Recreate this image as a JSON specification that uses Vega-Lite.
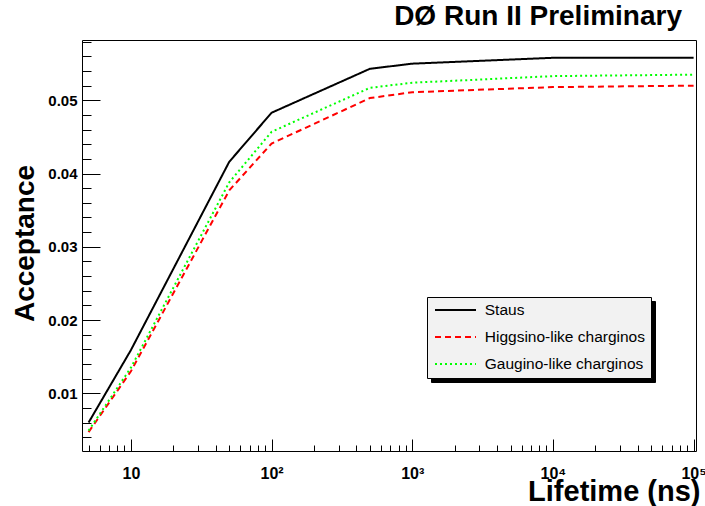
{
  "$schema": "https://vega.github.io/schema/vega-lite/v6.json",
  "width": 614,
  "height": 411,
  "autosize": {"type": "none"},
  "padding": {"left": 82, "top": 40, "right": 9, "bottom": 55},
  "background": "white",
  "config": {
    "view": {"stroke": "black", "strokeWidth": 1},
    "font": "Liberation Sans"
  },
  "title": {
    "text": "DØ Run II Preliminary",
    "anchor": "end",
    "frame": "group",
    "font": "Liberation Sans",
    "fontSize": 28,
    "fontWeight": "bold",
    "color": "black",
    "baseline": "alphabetic",
    "offset": 12,
    "dx": -14,
    "dy": 30
  },
  "data": {
    "values": [
      {"series": "Staus", "t": 5, "acc": 0.0060},
      {"series": "Staus", "t": 10, "acc": 0.0159},
      {"series": "Staus", "t": 50, "acc": 0.0416},
      {"series": "Staus", "t": 100, "acc": 0.0483},
      {"series": "Staus", "t": 500, "acc": 0.0543},
      {"series": "Staus", "t": 1000, "acc": 0.0550},
      {"series": "Staus", "t": 10000, "acc": 0.0558},
      {"series": "Staus", "t": 100000, "acc": 0.0558},
      {"series": "Higgsino-like charginos", "t": 5, "acc": 0.0047},
      {"series": "Higgsino-like charginos", "t": 10, "acc": 0.0130},
      {"series": "Higgsino-like charginos", "t": 50, "acc": 0.0377},
      {"series": "Higgsino-like charginos", "t": 100, "acc": 0.0441},
      {"series": "Higgsino-like charginos", "t": 500, "acc": 0.0503},
      {"series": "Higgsino-like charginos", "t": 1000, "acc": 0.0511},
      {"series": "Higgsino-like charginos", "t": 10000, "acc": 0.0518},
      {"series": "Higgsino-like charginos", "t": 100000, "acc": 0.0520},
      {"series": "Gaugino-like charginos", "t": 5, "acc": 0.0049},
      {"series": "Gaugino-like charginos", "t": 10, "acc": 0.0135},
      {"series": "Gaugino-like charginos", "t": 50, "acc": 0.0388},
      {"series": "Gaugino-like charginos", "t": 100, "acc": 0.0457},
      {"series": "Gaugino-like charginos", "t": 500, "acc": 0.0517},
      {"series": "Gaugino-like charginos", "t": 1000, "acc": 0.0524},
      {"series": "Gaugino-like charginos", "t": 10000, "acc": 0.0533},
      {"series": "Gaugino-like charginos", "t": 100000, "acc": 0.0535}
    ]
  },
  "layer": [
    {
      "mark": {"type": "line", "strokeWidth": 2, "clip": true},
      "encoding": {
        "x": {
          "field": "t",
          "type": "quantitative",
          "scale": {"type": "log", "domain": [4.49, 104000], "nice": false},
          "axis": {
            "title": "Lifetime (ns)",
            "values": [5,6,7,8,9,10,20,30,40,50,60,70,80,90,100,200,300,400,500,600,700,800,900,1000,2000,3000,4000,5000,6000,7000,8000,9000,10000,20000,30000,40000,50000,60000,70000,80000,90000,100000],
            "tickCount": 200,
            "domain": false,
            "grid": false,
            "tickColor": "black",
            "tickWidth": 1,
            "tickSize": {"condition": {"test": "indexof([10,100,1000,10000,100000], datum.value) >= 0", "value": -12}, "value": -6},
            "labelExpr": "datum.value == 10 ? '10' : datum.value == 100 ? '10²' : datum.value == 1000 ? '10³' : datum.value == 10000 ? '10⁴' : datum.value == 100000 ? '10⁵' : ''",
            "labelFont": "Liberation Sans",
            "labelFontSize": 16,
            "labelFontWeight": "bold",
            "labelColor": "black",
            "labelPadding": 26,
            "labelOverlap": false,
            "labelFlush": false,
            "labelBound": false,
            "titleFont": "Liberation Sans",
            "titleFontSize": 29,
            "titleFontWeight": "bold",
            "titleColor": "black",
            "titleAlign": "right",
            "titleBaseline": "alphabetic",
            "titleX": 618,
            "titleY": 49
          }
        },
        "y": {
          "field": "acc",
          "type": "quantitative",
          "scale": {"domain": [0.00212, 0.05823], "nice": false, "zero": false},
          "axis": {
            "title": "Acceptance",
            "values": [0.004,0.006,0.008,0.01,0.012,0.014,0.016,0.018,0.02,0.022,0.024,0.026,0.028,0.03,0.032,0.034,0.036,0.038,0.04,0.042,0.044,0.046,0.048,0.05,0.052,0.054,0.056,0.058],
            "tickCount": 200,
            "domain": false,
            "grid": false,
            "tickColor": "black",
            "tickWidth": 1,
            "tickSize": {"condition": {"test": "abs(datum.value*100 - round(datum.value*100)) < 0.000001", "value": -18}, "value": -9},
            "labelExpr": "abs(datum.value*100 - round(datum.value*100)) < 0.000001 ? format(datum.value, '.2f') : ''",
            "labelFont": "Liberation Sans",
            "labelFontSize": 15,
            "labelFontWeight": "bold",
            "labelColor": "black",
            "labelPadding": 23,
            "labelOverlap": false,
            "labelFlush": false,
            "labelBound": false,
            "titleFont": "Liberation Sans",
            "titleFontSize": 28,
            "titleFontWeight": "bold",
            "titleColor": "black",
            "titleAngle": 270,
            "titleAlign": "center",
            "titleBaseline": "alphabetic",
            "titleX": -49,
            "titleY": 203
          }
        },
        "color": {
          "field": "series",
          "type": "nominal",
          "scale": {"domain": ["Staus", "Higgsino-like charginos", "Gaugino-like charginos"], "range": ["#000000", "#ff0000", "#00ff00"]},
          "legend": {
            "title": null,
            "orient": "none",
            "legendX": 345,
            "legendY": 257,
            "fillColor": "#f2f2f2",
            "strokeColor": "black",
            "padding": 5.25,
            "rowPadding": 10,
            "symbolType": "M-1,0H7.2",
            "symbolSize": 100,
            "symbolStrokeWidth": 2,
            "labelOffset": 37,
            "labelFont": "Liberation Sans",
            "labelFontSize": 15.5,
            "labelFontWeight": "normal",
            "labelColor": "black",
            "labelLimit": 400,
            "labelExpr": "datum.label + '\u00a0'",
            "zindex": 1
          }
        },
        "strokeDash": {
          "field": "series",
          "type": "nominal",
          "scale": {"domain": ["Staus", "Higgsino-like charginos", "Gaugino-like charginos"], "range": [[1, 0], [6, 4], [2, 3]]}
        }
      }
    },
    {
      "mark": {"type": "point", "opacity": 0},
      "encoding": {
        "x": {"field": "t", "type": "quantitative"},
        "y": {"field": "acc", "type": "quantitative"},
        "shape": {
          "field": "series",
          "type": "nominal",
          "scale": {"range": ["M-1,0H7.2", "M-1,0H7.2", "M-1,0H7.2"]},
          "legend": {
            "title": null,
            "orient": "none",
            "legendX": 349,
            "legendY": 261,
            "fillColor": "black",
            "strokeColor": "black",
            "padding": 5.25,
            "rowPadding": 10,
            "symbolSize": 100,
            "symbolStrokeWidth": 2,
            "symbolOpacity": 0,
            "labelOffset": 37,
            "labelFont": "Liberation Sans",
            "labelFontSize": 15.5,
            "labelFontWeight": "normal",
            "labelOpacity": 0,
            "labelLimit": 400,
            "labelExpr": "datum.label + '\u00a0'",
            "zindex": 0
          }
        }
      }
    }
  ]
}
